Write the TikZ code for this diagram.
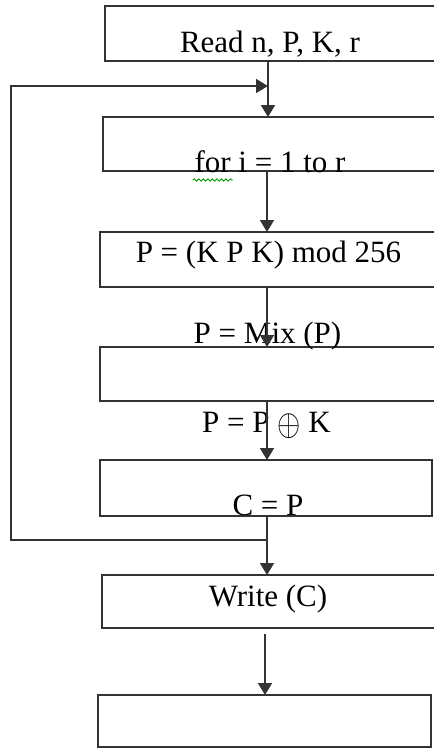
\documentclass[tikz,border=0pt]{standalone}
\usepackage{fontspec}
\usepackage{graphicx}
\setmainfont{Liberation Serif}
\usetikzlibrary{arrows.meta,decorations.pathmorphing}
\tikzset{
  box/.style={draw=black!80, line width=1.7pt, rectangle, inner sep=0pt, outer sep=0pt, anchor=north west},
  lbl/.style={inner sep=0pt, anchor=base, font=\fontsize{31}{36}\selectfont, text=black},
  conn/.style={draw=black!80, line width=1.7pt},
  arr/.style={conn, -{Triangle[length=12pt,width=14pt]}},
  squig/.style={draw=green!60!black, line width=0.9pt, decorate, decoration={snake, amplitude=1.2pt, segment length=4.5pt}}
}
\begin{document}
\begin{tikzpicture}[x=1pt,y=-1pt]
\useasboundingbox (0,0) rectangle (434,748);
\clip (0,0) rectangle (434,748);
% boxes
\node[box, minimum width=339pt, minimum height=55pt] (b1) at (105,6) {};
\node[box, minimum width=341pt, minimum height=54pt] (b2) at (103,117) {};
\node[box, minimum width=344pt, minimum height=55pt] (b3) at (100,232) {};
\node[box, minimum width=344pt, minimum height=54pt] (b4) at (100,347) {};
\node[box, minimum width=332pt, minimum height=56pt] (b5) at (100,460) {};
\node[box, minimum width=342pt, minimum height=53pt] (b6) at (102,575) {};
\node[box, minimum width=333pt, minimum height=52pt] (b7) at (98,695) {};
% texts
\node[lbl] (t1) at (270,52) {Read n, P, K, r};
\node[lbl] (t2) at (270,172) {for i = 1 to r};
\node[lbl] (t3) at (268.5,262) {P = (K P K) mod 256};
\node[lbl] (t4) at (267.5,343) {P = Mix (P)};
\node[lbl] (t5) at (266.5,432) {P = P \raisebox{-3pt}{\scalebox{1.2}[1.5]{$\oplus$}} K};
\node[lbl] (t6) at (268,515) {C = P};
\node[lbl] (t7) at (268,606) {Write (C)};
% spell-check squiggle
\coordinate (sq1) at (193,180);
\coordinate (sq2) at (233,180);
\draw[squig] (sq1) -- (sq2);
% main line coordinates
\coordinate (m) at (268,0);
\coordinate (n) at (267,0);
\coordinate (q) at (265,0);
\coordinate (c6) at (265,634);
% loop coordinates
\coordinate (tj) at (268,86);
\coordinate (lt) at (11,86);
\coordinate (lb) at (11,540);
\coordinate (j) at (267,540);
% connectors
\draw[arr] (b1.south -| m) -- (b2.north -| m);
\draw[arr] (b2.south -| n) -- (b3.north -| n);
\draw[arr] (b3.south -| n) -- (b4.north -| n);
\draw[arr] (b4.south -| n) -- (b5.north -| n);
\draw[arr] (b5.south -| n) -- (b6.north -| n);
\draw[arr] (c6) -- (b7.north -| q);
\draw[arr] (j) -- (lb) -- (lt) -- (tj);
\end{tikzpicture}
\end{document}
